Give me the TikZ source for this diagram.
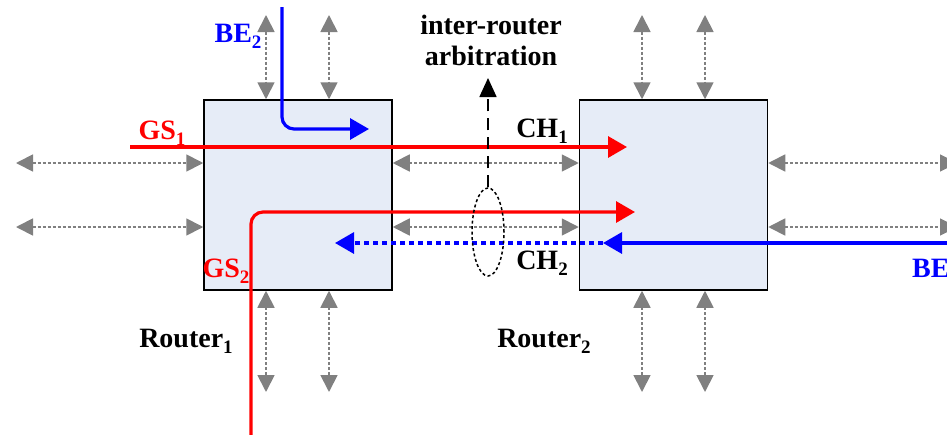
\documentclass[tikz,border=0pt]{standalone}
\usepackage{fontspec}
\setmainfont{Liberation Serif}
\usetikzlibrary{arrows.meta,shapes.geometric}
\definecolor{boxfill}{RGB}{230,236,247}
\definecolor{arrgray}{RGB}{128,128,128}
\newcommand\mysub[1]{\raisebox{-0.22em}{\fontsize{19}{19}\selectfont #1}}
\tikzset{
  routerbox/.style={draw=black, line width=1.5pt, fill=boxfill, minimum width=188pt, minimum height=190pt, inner sep=0pt},
  garrow/.style={arrgray, line width=1.8pt, dash pattern=on 3pt off 2pt,
     {Triangle[length=17pt,width=17pt]}-{Triangle[length=17pt,width=17pt]}},
  flow/.style={line width=3.2pt, -{Triangle[length=19pt,width=21pt]}},
  lbl/.style={font=\bfseries\fontsize{28}{31}\selectfont, inner sep=0pt},
}
\begin{document}
\begin{tikzpicture}[x=1pt,y=-1pt]
\useasboundingbox (0,0) rectangle (947,434);
\clip (0,0) rectangle (947,434);
% routers
\node[routerbox] (r1) at (298,195) {};
\node[routerbox] (r2) at (673.5,195) {};
% gray bidirectional arrows, router 1
\coordinate (t1a) at (266,15); \coordinate (t1b) at (329,15);
\coordinate (b1a) at (266,392); \coordinate (b1b) at (329,392);
\coordinate (l1a) at (16,163); \coordinate (l1b) at (16,227);
\draw[garrow] (t1a) -- (t1a |- r1.north);
\draw[garrow] (t1b) -- (t1b |- r1.north);
\draw[garrow] (b1a |- r1.south) -- (b1a);
\draw[garrow] (b1b |- r1.south) -- (b1b);
\draw[garrow] (l1a) -- (l1a -| r1.west);
\draw[garrow] (l1b) -- (l1b -| r1.west);
% between routers
\draw[garrow] (l1a -| r1.east) -- (l1a -| r2.west);
\draw[garrow] (l1b -| r1.east) -- (l1b -| r2.west);
% router 2
\coordinate (t2a) at (642,15); \coordinate (t2b) at (705,15);
\coordinate (b2a) at (642,392); \coordinate (b2b) at (705,392);
\coordinate (rr1) at (957,163); \coordinate (rr2) at (957,227);
\draw[garrow] (t2a) -- (t2a |- r2.north);
\draw[garrow] (t2b) -- (t2b |- r2.north);
\draw[garrow] (b2a |- r2.south) -- (b2a);
\draw[garrow] (b2b |- r2.south) -- (b2b);
\draw[garrow] (rr1 -| r2.east) -- (rr1);
\draw[garrow] (rr2 -| r2.east) -- (rr2);
% GS1
\coordinate (gs1s) at (130,147); \coordinate (gs1e) at (627,147);
\draw[red, flow] (gs1s) -- (gs1e);
% GS2
\coordinate (gs2s) at (251,440); \coordinate (gs2c) at (251,212); \coordinate (gs2e) at (635,212);
\draw[red, flow, rounded corners=12pt] (gs2s) -- (gs2c) -- (gs2e);
% BE2
\coordinate (be2s) at (282,7); \coordinate (be2c) at (282,129); \coordinate (be2e) at (369,129);
\draw[blue, flow, rounded corners=12pt] (be2s) -- (be2c) -- (be2e);
% BE1
\coordinate (be1s) at (950,243); \coordinate (be1m) at (603,243); \coordinate (be1e) at (335,243);
\draw[blue, flow] (be1s) -- (be1m);
\draw[blue, line width=3.2pt, dash pattern=on 5pt off 4pt, -{Triangle[length=19pt,width=21pt]}] (be1m) -- (be1e);
% arbitration
\node[draw=black, line width=1.5pt, dash pattern=on 3pt off 2.5pt, ellipse, minimum width=32pt, minimum height=88pt, inner sep=0pt] (ell) at (488,232) {};
\coordinate (arbtip) at (488,78);
\draw[black, line width=1.6pt, dash pattern=on 12pt off 7pt, -{Triangle[length=19pt,width=17pt]}] (ell.north) -- (arbtip);
% labels
\node[lbl, align=center] (arb) at (491,40) {inter-router\\arbitration};
\node[lbl, text=blue] (be2l) at (238,36) {BE\mysub{2}};
\node[lbl, text=red] (gs1l) at (162,133) {GS\mysub{1}};
\node[lbl, text=red] (gs2l) at (226,271) {GS\mysub{2}};
\node[lbl] (ch1l) at (542,131) {CH\mysub{1}};
\node[lbl] (ch2l) at (542,263) {CH\mysub{2}};
\node[lbl] (r1l) at (186,341) {Router\mysub{1}};
\node[lbl] (r2l) at (544,341) {Router\mysub{2}};
\node[lbl, text=blue, anchor=west] (be1l) at (912,271) {BE\mysub{1}};
\end{tikzpicture}
\end{document}
